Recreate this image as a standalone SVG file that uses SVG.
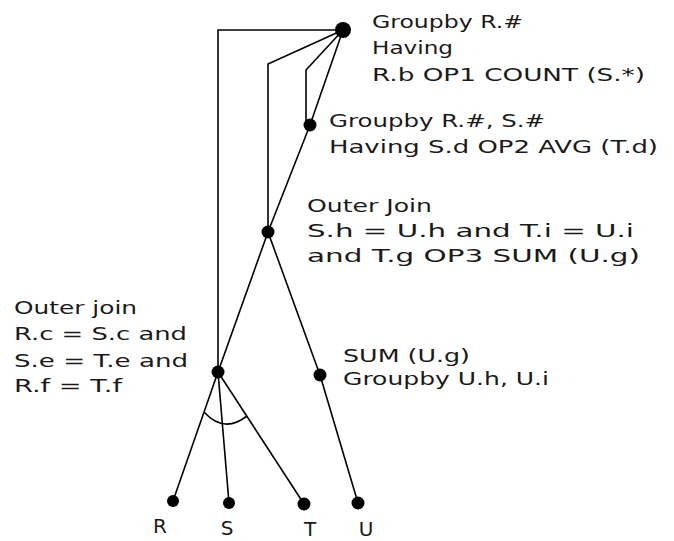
<svg xmlns="http://www.w3.org/2000/svg" width="674" height="541" viewBox="0 0 674 541">
<style>
.bg{fill:#ffffff}
.ln{fill:none;stroke:#000;stroke-width:1.6;stroke-linejoin:miter}
.nd{fill:#000}
.t{font-family:"DejaVu Sans","Verdana",sans-serif;font-size:17px;fill:#1a1a1a}
.lb{font-family:"DejaVu Sans","Verdana",sans-serif;font-size:20px;fill:#1a1a1a;text-anchor:middle}
</style>
<rect class="bg" x="0" y="0" width="674" height="541"/>
<g id="connectors">
<polyline class="ln" points="343,30 218,30 218,372"/>
<polyline class="ln" points="343,30 268,64 268,232"/>
<polyline class="ln" points="343,30 306,70 306,122"/>
<line class="ln" x1="343" y1="30" x2="310" y2="125"/>
<line class="ln" x1="310" y1="125" x2="268" y2="232"/>
<line class="ln" x1="268" y1="232" x2="218" y2="372"/>
<line class="ln" x1="268" y1="232" x2="320" y2="375"/>
<line class="ln" x1="320" y1="375" x2="358" y2="503"/>
<line class="ln" x1="218" y1="372" x2="173" y2="501"/>
<line class="ln" x1="218" y1="372" x2="229" y2="503"/>
<line class="ln" x1="218" y1="372" x2="304" y2="504"/>
<path class="ln" d="M204,412 Q224,434 247,416"/>
</g>
<g id="node-groupby-r">
<circle class="nd" cx="343" cy="30" r="8"/>
<text class="t" x="372" y="28" textLength="151" lengthAdjust="spacingAndGlyphs">Groupby R.#</text>
<text class="t" x="372" y="54" textLength="81" lengthAdjust="spacingAndGlyphs">Having</text>
<text class="t" x="372" y="81" textLength="273" lengthAdjust="spacingAndGlyphs">R.b OP1 COUNT (S.*)</text>
</g>
<g id="node-groupby-rs">
<circle class="nd" cx="310" cy="125" r="6.5"/>
<text class="t" x="329" y="127" textLength="216" lengthAdjust="spacingAndGlyphs">Groupby R.#, S.#</text>
<text class="t" x="329" y="153" textLength="329" lengthAdjust="spacingAndGlyphs">Having S.d OP2 AVG (T.d)</text>
</g>
<g id="node-outer-join-top">
<circle class="nd" cx="268" cy="232" r="6.5"/>
<text class="t" x="307" y="212" textLength="125" lengthAdjust="spacingAndGlyphs">Outer Join</text>
<text class="t" x="307" y="237" textLength="327" lengthAdjust="spacingAndGlyphs">S.h = U.h and T.i = U.i</text>
<text class="t" x="307" y="262" textLength="333" lengthAdjust="spacingAndGlyphs">and T.g OP3 SUM (U.g)</text>
</g>
<g id="node-outer-join-bottom">
<circle class="nd" cx="218" cy="372" r="6.5"/>
<text class="t" x="14" y="314" textLength="123" lengthAdjust="spacingAndGlyphs">Outer join</text>
<text class="t" x="14" y="340" textLength="173" lengthAdjust="spacingAndGlyphs">R.c = S.c and</text>
<text class="t" x="14" y="367" textLength="174" lengthAdjust="spacingAndGlyphs">S.e = T.e and</text>
<text class="t" x="14" y="392" textLength="108" lengthAdjust="spacingAndGlyphs">R.f = T.f</text>
</g>
<g id="node-sum">
<circle class="nd" cx="320" cy="375" r="6.5"/>
<text class="t" x="343" y="362" textLength="127" lengthAdjust="spacingAndGlyphs">SUM (U.g)</text>
<text class="t" x="343" y="385" textLength="206" lengthAdjust="spacingAndGlyphs">Groupby U.h, U.i</text>
</g>
<g id="node-R">
<circle class="nd" cx="173" cy="501" r="6"/>
<text class="lb" x="160" y="533">R</text>
</g>
<g id="node-S">
<circle class="nd" cx="229" cy="503" r="6"/>
<text class="lb" x="227" y="535">S</text>
</g>
<g id="node-T">
<circle class="nd" cx="304" cy="504" r="6.5"/>
<text class="lb" x="310" y="536">T</text>
</g>
<g id="node-U">
<circle class="nd" cx="358" cy="503" r="6.5"/>
<text class="lb" x="366" y="536">U</text>
</g>
</svg>
